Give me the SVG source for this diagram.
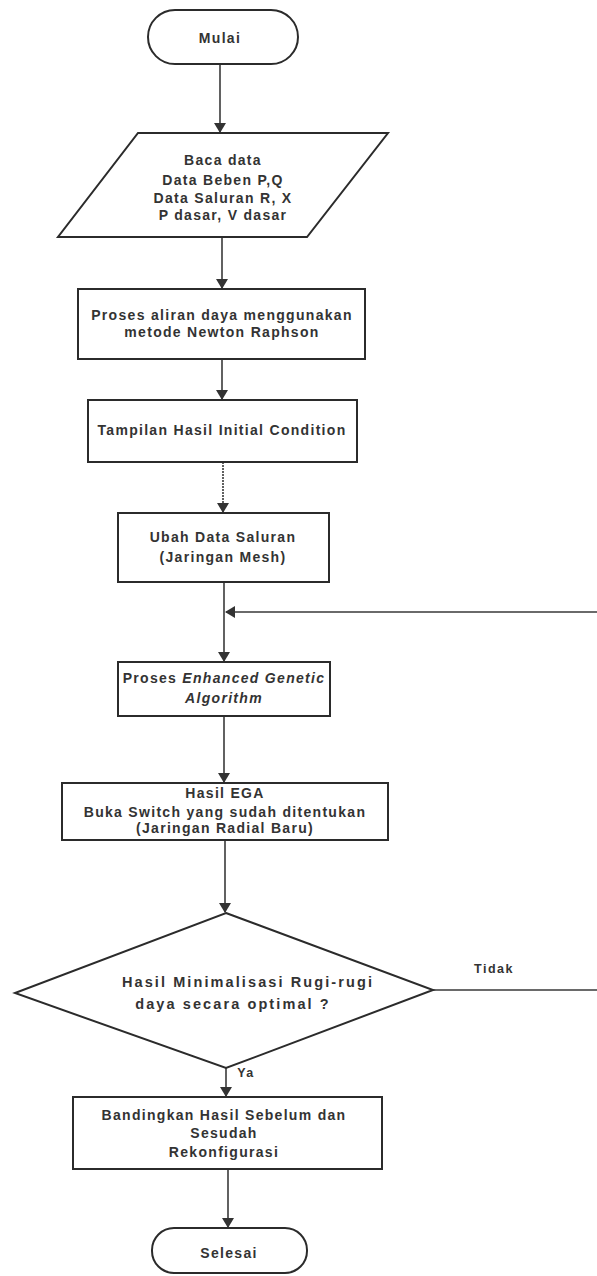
<svg xmlns="http://www.w3.org/2000/svg" width="597" height="1276" viewBox="0 0 597 1276">
<style>
.shape{fill:#fff;stroke:#2b2b2b;stroke-width:2}
.conn{fill:none;stroke:#3a3a3a;stroke-width:1.6}
text{font-family:"Liberation Sans",Arial,sans-serif;font-weight:bold;font-size:14px;letter-spacing:1.3px;fill:#333;text-anchor:middle}
.it{font-style:italic}
.dec{font-size:14.5px;letter-spacing:2.1px}
.lbl{font-size:12.5px;letter-spacing:1.5px}
</style>
<defs>
<marker id="ah" markerWidth="10" markerHeight="12" refX="9" refY="6" orient="auto" markerUnits="userSpaceOnUse">
<path d="M0,0 L10,6 L0,12 Z" fill="#333"/>
</marker>
</defs>
<rect width="597" height="1276" fill="#fff"/>
<g id="connectors">
<line class="conn" x1="220" y1="64" x2="220" y2="132" marker-end="url(#ah)"/>
<line class="conn" x1="222" y1="237" x2="222" y2="288" marker-end="url(#ah)"/>
<line class="conn" x1="222" y1="359" x2="222" y2="399" marker-end="url(#ah)"/>
<line class="conn" x1="223" y1="462" x2="223" y2="512" stroke-dasharray="2,1" marker-end="url(#ah)"/>
<line class="conn" x1="224" y1="582" x2="224" y2="661" marker-end="url(#ah)"/>
<line class="conn" x1="224" y1="716" x2="224" y2="782" marker-end="url(#ah)"/>
<line class="conn" x1="225" y1="840" x2="225" y2="912" marker-end="url(#ah)"/>
<line class="conn" x1="226" y1="1068" x2="226" y2="1096" marker-end="url(#ah)"/>
<line class="conn" x1="228" y1="1169" x2="228" y2="1227" marker-end="url(#ah)"/>
<path class="conn" d="M433,990 H598 V612 H226" marker-end="url(#ah)"/>
<text class="lbl" x="494" y="973">Tidak</text>
<text class="lbl" x="246" y="1077">Ya</text>
</g>
<g id="mulai">
<rect class="shape" x="148" y="10" width="150" height="54" rx="27"/>
<text x="220" y="43">Mulai</text>
</g>
<g id="baca-data">
<polygon class="shape" points="138,133 388,133 307,237 58,237"/>
<text x="223" y="165">Baca data</text>
<text x="223" y="185">Data Beben P,Q</text>
<text x="223" y="203">Data Saluran R, X</text>
<text x="223" y="220">P dasar, V dasar</text>
</g>
<g id="proses-aliran">
<rect class="shape" x="78" y="289" width="287" height="70"/>
<text x="222" y="320">Proses aliran daya menggunakan</text>
<text x="222" y="337">metode Newton Raphson</text>
</g>
<g id="tampilan">
<rect class="shape" x="88" y="400" width="269" height="62"/>
<text x="222" y="435">Tampilan Hasil Initial Condition</text>
</g>
<g id="ubah-data">
<rect class="shape" x="118" y="513" width="211" height="69"/>
<text x="223" y="542">Ubah Data Saluran</text>
<text x="223" y="562">(Jaringan Mesh)</text>
</g>
<g id="proses-ega">
<rect class="shape" x="118" y="662" width="212" height="54"/>
<text x="224" y="683" letter-spacing="0.6">Proses <tspan class="it">Enhanced Genetic</tspan></text>
<text x="224" y="703" class="it">Algorithm</text>
</g>
<g id="hasil-ega">
<rect class="shape" x="62" y="783" width="326" height="57"/>
<text x="225" y="798">Hasil EGA</text>
<text x="225" y="817">Buka Switch yang sudah ditentukan</text>
<text x="225" y="833">(Jaringan Radial Baru)</text>
</g>
<g id="keputusan">
<polygon class="shape" points="226,913 433,990 226,1068 15,993"/>
<text class="dec" x="248" y="987">Hasil Minimalisasi Rugi-rugi</text>
<text class="dec" x="233" y="1009">daya secara optimal ?</text>
</g>
<g id="bandingkan">
<rect class="shape" x="73" y="1097" width="309" height="72"/>
<text x="224" y="1120">Bandingkan Hasil Sebelum dan</text>
<text x="224" y="1138">Sesudah</text>
<text x="224" y="1157">Rekonfigurasi</text>
</g>
<g id="selesai">
<rect class="shape" x="152" y="1228" width="155" height="45" rx="22"/>
<text x="229" y="1258">Selesai</text>
</g>
</svg>
